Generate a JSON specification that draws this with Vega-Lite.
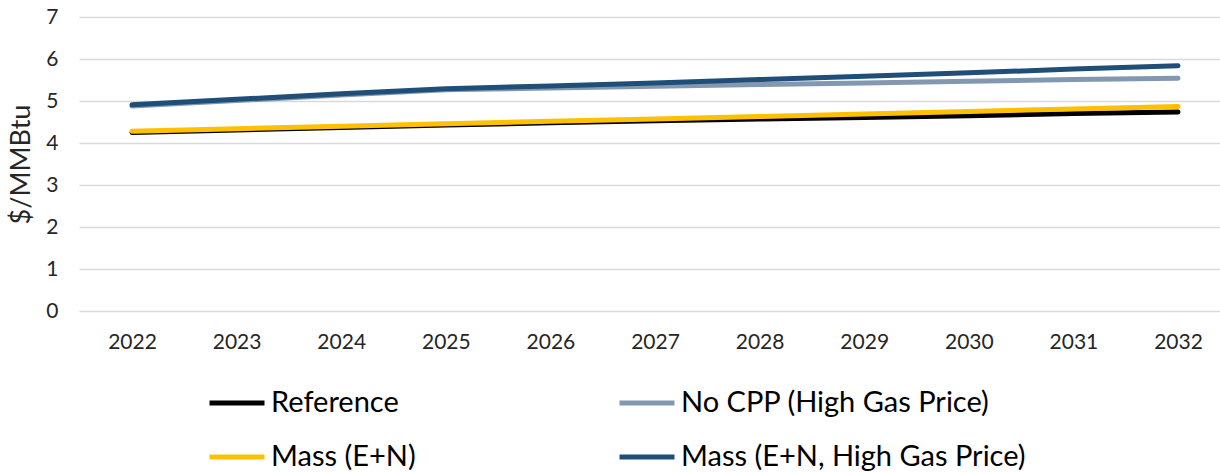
{
  "$schema": "https://vega.github.io/schema/vega-lite/v6.json",
  "autosize": {"type": "none"},
  "width": 1141,
  "height": 294,
  "padding": {"left": 79, "top": 17, "right": 0, "bottom": 162},
  "background": "white",
  "config": {
    "font": "Lato",
    "view": {"stroke": null}
  },
  "data": {
    "values": [
      {"year": "2022", "series": "Reference", "price": 4.25},
      {"year": "2023", "series": "Reference", "price": 4.31},
      {"year": "2024", "series": "Reference", "price": 4.37},
      {"year": "2025", "series": "Reference", "price": 4.43},
      {"year": "2026", "series": "Reference", "price": 4.48},
      {"year": "2027", "series": "Reference", "price": 4.53},
      {"year": "2028", "series": "Reference", "price": 4.57},
      {"year": "2029", "series": "Reference", "price": 4.61},
      {"year": "2030", "series": "Reference", "price": 4.65},
      {"year": "2031", "series": "Reference", "price": 4.70},
      {"year": "2032", "series": "Reference", "price": 4.74},
      {"year": "2022", "series": "No CPP (High Gas Price)", "price": 4.88},
      {"year": "2023", "series": "No CPP (High Gas Price)", "price": 5.01},
      {"year": "2024", "series": "No CPP (High Gas Price)", "price": 5.14},
      {"year": "2025", "series": "No CPP (High Gas Price)", "price": 5.27},
      {"year": "2026", "series": "No CPP (High Gas Price)", "price": 5.31},
      {"year": "2027", "series": "No CPP (High Gas Price)", "price": 5.35},
      {"year": "2028", "series": "No CPP (High Gas Price)", "price": 5.39},
      {"year": "2029", "series": "No CPP (High Gas Price)", "price": 5.43},
      {"year": "2030", "series": "No CPP (High Gas Price)", "price": 5.47},
      {"year": "2031", "series": "No CPP (High Gas Price)", "price": 5.51},
      {"year": "2032", "series": "No CPP (High Gas Price)", "price": 5.54},
      {"year": "2022", "series": "Mass (E+N)", "price": 4.28},
      {"year": "2023", "series": "Mass (E+N)", "price": 4.34},
      {"year": "2024", "series": "Mass (E+N)", "price": 4.40},
      {"year": "2025", "series": "Mass (E+N)", "price": 4.46},
      {"year": "2026", "series": "Mass (E+N)", "price": 4.52},
      {"year": "2027", "series": "Mass (E+N)", "price": 4.57},
      {"year": "2028", "series": "Mass (E+N)", "price": 4.63},
      {"year": "2029", "series": "Mass (E+N)", "price": 4.69},
      {"year": "2030", "series": "Mass (E+N)", "price": 4.75},
      {"year": "2031", "series": "Mass (E+N)", "price": 4.81},
      {"year": "2032", "series": "Mass (E+N)", "price": 4.87},
      {"year": "2022", "series": "Mass (E+N, High Gas Price)", "price": 4.91},
      {"year": "2023", "series": "Mass (E+N, High Gas Price)", "price": 5.04},
      {"year": "2024", "series": "Mass (E+N, High Gas Price)", "price": 5.17},
      {"year": "2025", "series": "Mass (E+N, High Gas Price)", "price": 5.29},
      {"year": "2026", "series": "Mass (E+N, High Gas Price)", "price": 5.36},
      {"year": "2027", "series": "Mass (E+N, High Gas Price)", "price": 5.43},
      {"year": "2028", "series": "Mass (E+N, High Gas Price)", "price": 5.51},
      {"year": "2029", "series": "Mass (E+N, High Gas Price)", "price": 5.59},
      {"year": "2030", "series": "Mass (E+N, High Gas Price)", "price": 5.67},
      {"year": "2031", "series": "Mass (E+N, High Gas Price)", "price": 5.76},
      {"year": "2032", "series": "Mass (E+N, High Gas Price)", "price": 5.84}
    ]
  },
  "mark": {"type": "line", "strokeWidth": 5, "strokeCap": "round", "strokeJoin": "round"},
  "encoding": {
    "x": {
      "field": "year",
      "type": "ordinal",
      "sort": null,
      "scale": {"type": "point", "padding": 0.454, "align": 0.558},
      "axis": {
        "title": null,
        "labelAngle": 0,
        "labelFontSize": 21,
        "labelColor": "#262626",
        "labelPadding": 20,
        "ticks": false,
        "tickSize": 0,
        "domain": false,
        "grid": false
      }
    },
    "y": {
      "field": "price",
      "type": "quantitative",
      "scale": {"domain": [0, 7], "nice": false, "zero": true},
      "axis": {
        "title": "$/MMBtu",
        "titleFontSize": 27,
        "titleFontWeight": "normal",
        "titleColor": "#262626",
        "titlePadding": 10,
        "values": [0, 1, 2, 3, 4, 5, 6, 7],
        "labelFontSize": 21,
        "labelColor": "#262626",
        "labelPadding": 21,
        "ticks": false,
        "tickSize": 0,
        "domain": false,
        "grid": true,
        "gridColor": "#D9D9D9",
        "gridWidth": 1.5
      }
    },
    "color": {
      "field": "series",
      "type": "nominal",
      "sort": null,
      "scale": {
        "domain": ["Reference", "No CPP (High Gas Price)", "Mass (E+N)", "Mass (E+N, High Gas Price)"],
        "range": ["#000000", "#8497B0", "#FFC000", "#1F4E79"]
      },
      "legend": {
        "title": null,
        "orient": "none",
        "direction": "horizontal",
        "legendX": 128,
        "legendY": 356,
        "columns": 2,
        "gridAlign": "each",
        "columnPadding": 193,
        "rowPadding": 9,
        "symbolType": "stroke",
        "symbolSize": 3025,
        "symbolStrokeWidth": 5,
        "labelFontSize": 29,
        "labelColor": "#000000",
        "labelOffset": 4,
        "labelLimit": 600
      }
    }
  }
}
